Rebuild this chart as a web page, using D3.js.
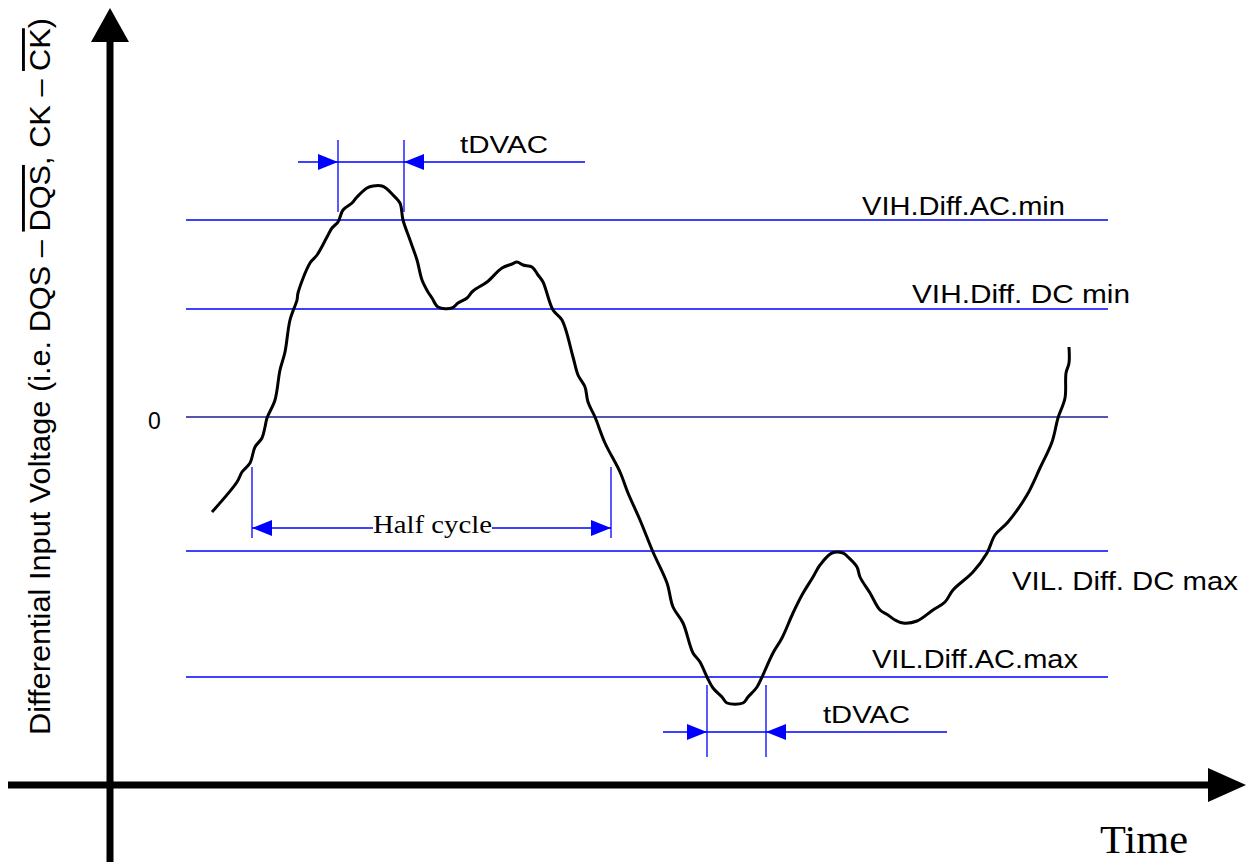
<!DOCTYPE html>
<html>
<head>
<style>
  body { margin: 0; background: #fff; }
  text { font-family: "Liberation Sans", Arial, sans-serif; fill: #000; }
  .serif { font-family: "Liberation Serif", "Times New Roman", serif; }
</style>
</head>
<body>
<script src="https://d3js.org/d3.v7.min.js"></script>
<div id="chart"></div>
<script>
// Waveform samples (time units, voltage units relative to 0)
var times = [102,127,132,140,145,152,155,157,165,170,
  175,180,187,188,200,207,217,222,228,233,
  242,247,257,263,272,277,283,290,293,300,
  307,312,318,322,328,342,348,357,363,377,
  392,402,407,413,422,428,433,443,452,463,
  468,475,478,485,495,510,518,530,543,557,
  563,573,583,590,597,603,612,617,633,638,
  647,652,663,672,683,692,703,710,722,733,
  738,747,750,760,770,778,785,793,807,823,
  835,843,863,877,885,898,917,930,942,948,
  955,956,959,959];
var volts = [-95,-65,-55,-46,-30,-21,-10,-1,17,47,
  65,97,117,124,154,162,180,189,195,207,
  214,220,229,231,231,228,222,214,197,177,
  157,137,125,119,110,109,114,119,126,135,
  149,153,155,152,150,142,135,107,97,60,
  42,30,15,0,-26,-55,-76,-103,-135,-166,
  -190,-206,-236,-245,-260,-271,-280,-286,-286,-280,
  -270,-260,-236,-221,-196,-178,-160,-148,-136,-136,
  -140,-150,-160,-176,-193,-198,-203,-206,-204,-193,
  -185,-173,-155,-136,-118,-105,-78,-51,-25,-1,
  19,44,54,70];

// Threshold levels
var levelNames  = ["VIH.Diff.AC.min", "VIH.Diff. DC min", "0", "VIL. Diff. DC max", "VIL.Diff.AC.max"];
var levelValues = [197, 108, 0, -134, -260];

// Timing markers (start, end)
var tdvacHigh = [228, 294];
var tdvacLow  = [597, 656];
var halfCycle = [142, 501];

var width = 1257, height = 866;

var x = d3.scaleLinear().domain([0, 1100]).range([110, 1210]);
var y = d3.scaleLinear().domain([-368, 417]).range([785, 0]);

var svg = d3.select("#chart").append("svg")
    .attr("width", width)
    .attr("height", height);

var blue = "#0000ff";

// Level lines
svg.selectAll(".level")
    .data(levelValues)
  .enter().append("line")
    .attr("class", "level")
    .attr("x1", x(76)).attr("x2", x(998))
    .attr("y1", function(d) { return y(d); })
    .attr("y2", function(d) { return y(d); })
    .attr("stroke", function(d) { return d === 0 ? "#1c1c90" : blue; })
    .attr("stroke-width", 1.3);

// Level labels (placement per label)
var labelPos = [
  {x: 862, dy: -5, len: 203},
  {x: 912, dy: -6, len: 218},
  {x: 148, dy: 12, len: null},
  {x: 1012, dy: 39, len: 226},
  {x: 872, dy: -9, len: 206}
];
levelNames.forEach(function(name, i) {
  var p = labelPos[i];
  var t = svg.append("text")
      .attr("x", p.x)
      .attr("y", y(levelValues[i]) + p.dy)
      .attr("font-size", i === 2 ? 23 : 25)
      .text(name);
  if (p.len) t.attr("textLength", p.len).attr("lengthAdjust", "spacingAndGlyphs");
});

// Axes
svg.append("line")
    .attr("x1", x(0)).attr("x2", x(0))
    .attr("y1", y(380)).attr("y2", y(-445))
    .attr("stroke", "#000").attr("stroke-width", 7);
svg.append("line")
    .attr("x1", x(-102)).attr("x2", x(1100))
    .attr("y1", y(-368)).attr("y2", y(-368))
    .attr("stroke", "#000").attr("stroke-width", 7);
svg.append("path")
    .attr("d", "M" + x(0) + "," + y(409) + "L" + (x(0) - 19) + "," + y(375) +
               "L" + (x(0) + 19) + "," + y(375) + "Z")
    .attr("fill", "#000");
svg.append("path")
    .attr("d", "M" + x(1136) + "," + y(-368) + "L" + x(1098) + "," + (y(-368) - 17) +
               "L" + x(1098) + "," + (y(-368) + 17) + "Z")
    .attr("fill", "#000");

// Waveform
var line = d3.line()
    .x(function(d) { return x(d[0]); })
    .y(function(d) { return y(d[1]); })
    .curve(d3.curveCatmullRom.alpha(0.5));
svg.append("path")
    .datum(d3.zip(times, volts))
    .attr("d", line)
    .attr("fill", "none")
    .attr("stroke", "#000")
    .attr("stroke-width", 3)
    .attr("stroke-linejoin", "round");

// Arrowhead helper: tip at (tx, ty), dir = +1 points right, -1 points left
function arrowHead(tx, ty, dir) {
  var len = 20, half = 8;
  svg.append("path")
      .attr("d", "M" + tx + "," + ty + "L" + (tx - dir * len) + "," + (ty - half) +
                 "L" + (tx - dir * len) + "," + (ty + half) + "Z")
      .attr("fill", blue);
}

function vline(t, v1, v2) {
  svg.append("line")
      .attr("x1", x(t)).attr("x2", x(t))
      .attr("y1", y(v1)).attr("y2", y(v2))
      .attr("stroke", blue).attr("stroke-width", 1.3);
}
function hline(t1, t2, v) {
  svg.append("line")
      .attr("x1", x(t1)).attr("x2", x(t2))
      .attr("y1", y(v)).attr("y2", y(v))
      .attr("stroke", blue).attr("stroke-width", 1.3);
}

// tDVAC (high)
vline(tdvacHigh[0], 277, 205);
vline(tdvacHigh[1], 277, 205);
hline(188, 475, 255);
arrowHead(x(tdvacHigh[0]), y(255), 1);
arrowHead(x(tdvacHigh[1]), y(255), -1);
svg.append("text")
    .attr("x", 460).attr("y", y(264))
    .attr("font-size", 24)
    .attr("textLength", 88).attr("lengthAdjust", "spacingAndGlyphs")
    .text("tDVAC");

// tDVAC (low)
vline(tdvacLow[0], -268, -340);
vline(tdvacLow[1], -268, -340);
hline(553, 837, -315);
arrowHead(x(tdvacLow[0]), y(-315), 1);
arrowHead(x(tdvacLow[1]), y(-315), -1);
svg.append("text")
    .attr("x", 823).attr("y", y(-306))
    .attr("font-size", 24)
    .attr("textLength", 87).attr("lengthAdjust", "spacingAndGlyphs")
    .text("tDVAC");

// Half cycle
vline(halfCycle[0], -50, -121);
vline(halfCycle[1], -50, -121);
hline(halfCycle[0], 263, -111);
hline(382, halfCycle[1], -111);
arrowHead(x(halfCycle[0]), y(-111), -1);
arrowHead(x(halfCycle[1]), y(-111), 1);
svg.append("text")
    .attr("class", "serif")
    .attr("x", 373).attr("y", y(-116))
    .attr("font-size", 25)
    .attr("textLength", 119).attr("lengthAdjust", "spacingAndGlyphs")
    .text("Half cycle");

// Axis titles
svg.append("text")
    .attr("class", "serif")
    .attr("x", 1100).attr("y", 853)
    .attr("font-size", 40)
    .attr("textLength", 88).attr("lengthAdjust", "spacingAndGlyphs")
    .text("Time");

var yTitle = svg.append("text")
    .attr("transform", "translate(50,735) rotate(-90)")
    .attr("font-size", 29)
    .attr("textLength", 717).attr("lengthAdjust", "spacingAndGlyphs");
yTitle.append("tspan").text("Differential Input Voltage (i.e. DQS \u2013 ");
yTitle.append("tspan").style("text-decoration", "overline").text("DQS");
yTitle.append("tspan").text(", CK \u2013 ");
yTitle.append("tspan").style("text-decoration", "overline").text("CK");
yTitle.append("tspan").text(")");
</script>
</body>
</html>
